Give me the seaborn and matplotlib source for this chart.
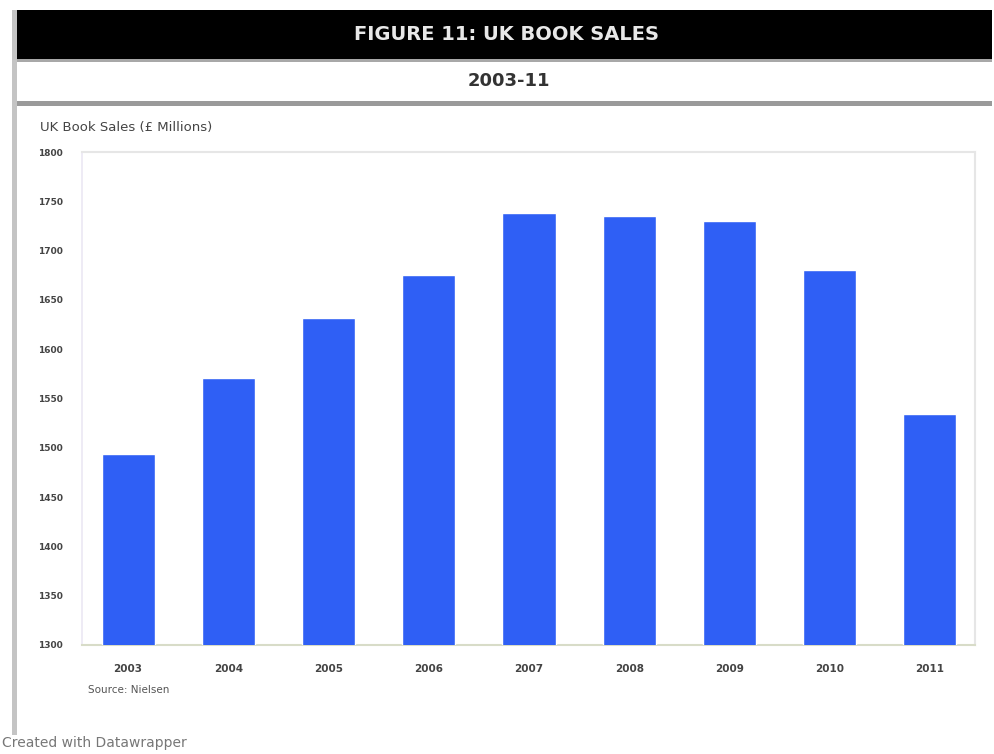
import matplotlib
matplotlib.use("Agg")
import matplotlib.pyplot as plt
import seaborn as sns
import pandas as pd
from matplotlib.patches import Rectangle

# Annual UK book sales, 2003-2011 (£ millions)
years = ["2003", "2004", "2005", "2006", "2007", "2008", "2009", "2010", "2011"]
sales = [1494, 1571, 1632, 1675, 1738, 1735, 1730, 1680, 1534]
y_ticks = [1300, 1350, 1400, 1450, 1500, 1550, 1600, 1650, 1700, 1750, 1800]

title = "FIGURE 11: UK BOOK SALES"
subtitle = "2003-11"
y_label = "UK Book Sales (£ Millions)"
source = "Source: Nielsen"
footer = "Created with Datawrapper"

sns.set_theme(style="white")
plt.rcParams["font.family"] = ["DejaVu Sans"]

fig = plt.figure(figsize=(9.95, 7.54), dpi=100)
W, H = 995, 754

def fx(px):
    return px / W

def fy(py):
    return 1 - py / H

# Header: black title band, white subtitle strip, grey rules
fig.patches.append(Rectangle((fx(12), fy(59)), fx(980), 49 / H, transform=fig.transFigure,
                             facecolor="black", edgecolor="none", zorder=0))
fig.patches.append(Rectangle((fx(12), fy(62)), fx(980), 3 / H, transform=fig.transFigure,
                             facecolor="#a8a8a8", edgecolor="none", zorder=0))
fig.patches.append(Rectangle((fx(12), fy(106)), fx(980), 5 / H, transform=fig.transFigure,
                             facecolor="#9a9a9a", edgecolor="none", zorder=0))
fig.patches.append(Rectangle((fx(12), fy(735)), fx(5), 725 / H, transform=fig.transFigure,
                             facecolor="#c4c4c4", edgecolor="none", zorder=0))

fig.text(fx(507), fy(35), title, color="#e8e8e8", ha="center", va="center",
         fontsize=14, fontweight="bold")
fig.text(fx(509), fy(81), subtitle, color="#333333", ha="center", va="center",
         fontsize=13, fontweight="bold")
fig.text(fx(40), fy(128), y_label, color="#444444", ha="left", va="center", fontsize=9.5)
fig.text(fx(88), fy(690), source, color="#555555", ha="left", va="center", fontsize=7.5)
fig.text(fx(2), fy(743), footer, color="#777777", ha="left", va="center", fontsize=10)

ax = fig.add_axes([fx(82), fy(645), fx(975 - 82), (645 - 152) / H])
df = pd.DataFrame({"year": years, "sales": sales})
sns.barplot(data=df, x="year", y="sales", color="#2f5ff5", saturation=1,
            width=0.53, ax=ax, zorder=3)

ax.set_xlim(-0.46, 8.45)
ax.set_ylim(y_ticks[0], y_ticks[-1])
ax.set_yticks(y_ticks)
ax.set_yticklabels([f"{t}" for t in y_ticks], fontsize=6.5, color="#444444", fontweight="bold")
ax.tick_params(axis="x", labelsize=7.5, colors="#444444", pad=14, length=0)
for lbl in ax.get_xticklabels():
    lbl.set_fontweight("bold")
ax.tick_params(axis="y", length=0, pad=14)
ax.set_xlabel("")
ax.set_ylabel("")
for side in ["top", "right"]:
    ax.spines[side].set_color("#e6e6e6")
    ax.spines[side].set_linewidth(1.5)
ax.spines["left"].set_color("#ece8f4")
ax.spines["bottom"].set_color("#d8dcc8")
ax.spines["bottom"].set_linewidth(1.5)

fig.savefig("out.png", dpi=100, facecolor="white")
